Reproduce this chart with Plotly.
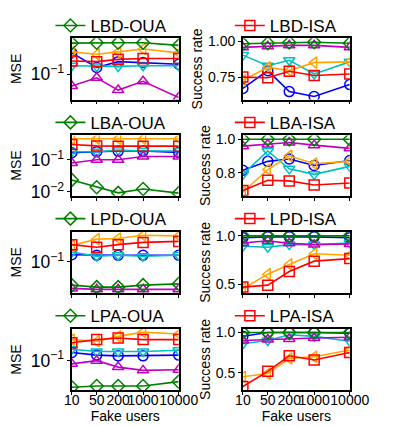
import plotly.graph_objects as go

# ---------------- data ----------------
fake_users = [10, 50, 200, 1000, 10000]
x_tick_labels = ["10", "50", "200", "1000", "10000"]

# Row 1 - MSE (LBD-OUA panel)
mse_lbd_green   = [0.514, 0.527, 0.527, 0.527, 0.457]
mse_lbd_orange  = [0.324, 0.286, 0.324, 0.378, 0.308]
mse_lbd_red     = [0.201, 0.194, 0.219, 0.230, 0.230]
mse_lbd_blue    = [0.308, 0.143, 0.194, 0.185, 0.169]
mse_lbd_cyan    = [0.156, 0.151, 0.151, 0.156, 0.156]
mse_lbd_magenta = [0.054, 0.083, 0.0434, 0.069, 0.0293]

# Row 1 - Success rate (LBD-ISA panel)
sr_lbd_green   = [0.982, 0.986, 0.991, 0.993, 0.986]
sr_lbd_magenta = [0.957, 0.964, 0.971, 0.971, 0.957]
sr_lbd_cyan    = [0.903, 0.829, 0.867, 0.772, 0.856]
sr_lbd_orange  = [0.728, 0.818, 0.795, 0.851, 0.856]
sr_lbd_red     = [0.750, 0.745, 0.791, 0.761, 0.772]
sr_lbd_blue    = [0.671, 0.795, 0.649, 0.615, 0.698]

# Row 2 - MSE (LBA-OUA panel)
mse_lba_orange  = [0.455, 0.455, 0.455, 0.455, 0.455]
mse_lba_red     = [0.299, 0.271, 0.266, 0.266, 0.266]
mse_lba_blue    = [0.166, 0.179, 0.187, 0.187, 0.170]
mse_lba_cyan    = [0.179, 0.179, 0.200, 0.187, 0.187]
mse_lba_magenta = [0.0794, 0.100, 0.100, 0.126, 0.126]
mse_lba_green   = [0.0236, 0.0139, 0.0093, 0.0123, 0.0091]

# Row 2 - Success rate (LBA-ISA panel)
sr_lba_green   = [1.0, 1.0, 1.0, 1.0, 1.0]
sr_lba_magenta = [0.959, 0.969, 0.981, 0.965, 0.946]
sr_lba_blue    = [0.815, 0.868, 0.882, 0.843, 0.873]
sr_lba_cyan    = [0.790, 0.930, 0.823, 0.790, 0.838]
sr_lba_orange  = [0.683, 0.819, 0.901, 0.854, 0.868]
sr_lba_red     = [0.693, 0.755, 0.751, 0.726, 0.738]

# Row 3 - MSE (LPD-OUA panel)
mse_lpd_orange  = [0.235, 0.330, 0.341, 0.404, 0.392]
mse_lpd_red     = [0.247, 0.215, 0.247, 0.278, 0.293]
mse_lpd_blue    = [0.145, 0.141, 0.141, 0.141, 0.141]
mse_lpd_cyan    = [0.167, 0.134, 0.141, 0.134, 0.141]
mse_lpd_green   = [0.0293, 0.0264, 0.0264, 0.0293, 0.0313]
mse_lpd_magenta = [0.0247, 0.0235, 0.0235, 0.0235, 0.0235]

# Row 3 - Success rate (LPD-ISA panel)
sr_lpd_green   = [1.0, 1.0, 1.0, 1.0, 1.0]
sr_lpd_blue    = [0.98, 0.99, 0.99, 0.99, 0.98]
sr_lpd_magenta = [0.926, 0.950, 0.923, 0.910, 0.916]
sr_lpd_cyan    = [0.893, 0.883, 0.910, 0.910, 0.926]
sr_lpd_orange  = [0.456, 0.606, 0.706, 0.816, 0.800]
sr_lpd_red     = [0.473, 0.493, 0.633, 0.740, 0.766]

# Row 4 - MSE (LPA-OUA panel)
mse_lpa_orange  = [0.303, 0.278, 0.359, 0.450, 0.406]
mse_lpa_red     = [0.256, 0.303, 0.331, 0.303, 0.303]
mse_lpa_cyan    = [0.182, 0.162, 0.162, 0.162, 0.173]
mse_lpa_blue    = [0.154, 0.134, 0.129, 0.129, 0.134]
mse_lpa_magenta = [0.0845, 0.100, 0.0713, 0.060, 0.062]
mse_lpa_green   = [0.0247, 0.0264, 0.0264, 0.0264, 0.0331]

# Row 4 - Success rate (LPA-ISA panel)
sr_lpa_green   = [1.0, 1.0, 1.0, 1.0, 1.0]
sr_lpa_blue    = [0.952, 1.0, 1.0, 1.0, 0.99]
sr_lpa_magenta = [0.900, 0.912, 0.920, 0.932, 0.940]
sr_lpa_cyan    = [0.860, 0.900, 0.972, 0.952, 0.891]
sr_lpa_red     = [0.327, 0.516, 0.709, 0.657, 0.750]
sr_lpa_orange  = [0.448, 0.488, 0.677, 0.697, 0.782]

left_titles = ["LBD-OUA", "LBA-OUA", "LPD-OUA", "LPA-OUA"]
right_titles = ["LBD-ISA", "LBA-ISA", "LPD-ISA", "LPA-ISA"]

# ---------------- styles ----------------
STYLE = {
    "blue": ("#0000FF", "circle-open"),
    "cyan": ("#00BFBF", "triangle-down-open"),
    "magenta": ("#BF00BF", "triangle-up-open"),
    "orange": ("#FFA500", "triangle-left-open"),
    "red": ("#FF0000", "square-open"),
    "green": ("#008000", "diamond-open"),
}
ORDER = ["blue", "cyan", "magenta", "orange", "red", "green"]

panels = [
    (0, 0, "green", dict(green=mse_lbd_green, orange=mse_lbd_orange, red=mse_lbd_red,
                         blue=mse_lbd_blue, cyan=mse_lbd_cyan, magenta=mse_lbd_magenta)),
    (0, 1, "red", dict(green=sr_lbd_green, orange=sr_lbd_orange, red=sr_lbd_red,
                       blue=sr_lbd_blue, cyan=sr_lbd_cyan, magenta=sr_lbd_magenta)),
    (1, 0, "green", dict(green=mse_lba_green, orange=mse_lba_orange, red=mse_lba_red,
                         blue=mse_lba_blue, cyan=mse_lba_cyan, magenta=mse_lba_magenta)),
    (1, 1, "red", dict(green=sr_lba_green, orange=sr_lba_orange, red=sr_lba_red,
                       blue=sr_lba_blue, cyan=sr_lba_cyan, magenta=sr_lba_magenta)),
    (2, 0, "green", dict(green=mse_lpd_green, orange=mse_lpd_orange, red=mse_lpd_red,
                         blue=mse_lpd_blue, cyan=mse_lpd_cyan, magenta=mse_lpd_magenta)),
    (2, 1, "red", dict(green=sr_lpd_green, orange=sr_lpd_orange, red=sr_lpd_red,
                       blue=sr_lpd_blue, cyan=sr_lpd_cyan, magenta=sr_lpd_magenta)),
    (3, 0, "green", dict(green=mse_lpa_green, orange=mse_lpa_orange, red=mse_lpa_red,
                         blue=mse_lpa_blue, cyan=mse_lpa_cyan, magenta=mse_lpa_magenta)),
    (3, 1, "red", dict(green=sr_lpa_green, orange=sr_lpa_orange, red=sr_lpa_red,
                       blue=sr_lpa_blue, cyan=sr_lpa_cyan, magenta=sr_lpa_magenta)),
]

W, H = 399, 426
col_px = [(60, 175), (244, 359)]
row_px = [(25, 88), (125, 187), (224, 287), (324, 387)]
legend_y_px = [12, 112, 211, 311]
legend_x_px = [37, 230]

left_ranges = [(-1.578, -0.178), (-2.121, -0.242), (-1.711, -0.311), (-1.673, -0.273)]
right_ranges = [(0.594, 1.02), (0.662, 1.023), (0.413, 1.043), (0.282, 1.045)]
right_ticks = [([0.75, 1.0], ["0.75", "1.00"]), ([0.8, 1.0], ["0.8", "1.0"]),
               ([0.5, 1.0], ["0.5", "1.0"]), ([0.5, 1.0], ["0.5", "1.0"])]

FONT = "Liberation Sans, Arial, sans-serif"
fig = go.Figure()
layout = dict(width=W, height=H, margin=dict(l=0, r=0, t=0, b=0),
              paper_bgcolor="white", plot_bgcolor="white",
              font=dict(family=FONT, color="black", size=14))

for i, (r, c, leg_key, data) in enumerate(panels):
    n = i + 1
    sfx = "" if n == 1 else str(n)
    leg_name = "legend" if n == 1 else f"legend{n}"
    title = left_titles[r] if c == 0 else right_titles[r]
    for key in ORDER:
        color, sym = STYLE[key]
        fig.add_trace(go.Scatter(
            x=fake_users, y=data[key], mode="lines+markers",
            name=title if key == leg_key else key,
            showlegend=(key == leg_key), legend=leg_name,
            xaxis="x" + sfx, yaxis="y" + sfx,
            line=dict(color=color, width=1.6),
            marker=dict(symbol=sym, size=10, color=color, line=dict(width=1.5, color=color)),
        ))
    x0, x1 = col_px[c]
    y0, y1 = row_px[r]
    xa = dict(domain=[x0 / W, x1 / W], type="log", range=[1, 4],
              tickvals=fake_users, ticktext=x_tick_labels, tickangle=0,
              showticklabels=(r == 3), showgrid=False, zeroline=False,
              showline=True, mirror=True, linecolor="black", linewidth=1.6,
              ticks="outside", ticklen=3, tickcolor="black", tickfont=dict(size=14),
              anchor="y" + sfx)
    if r == 3:
        xa["ticklabelstandoff"] = -7
        xa["title"] = dict(text="Fake users", font=dict(size=14), standoff=0)
    ya = dict(domain=[1 - y1 / H, 1 - y0 / H], showgrid=False, zeroline=False,
              showline=True, mirror=True, linecolor="black", linewidth=1.6,
              ticks="outside", ticklen=3, tickcolor="black", tickfont=dict(size=14),
              anchor="x" + sfx)
    if c == 0:
        ya.update(type="log", range=list(left_ranges[r]), dtick=1, exponentformat="power",
                  title=dict(text="MSE", font=dict(size=14), standoff=8))
    else:
        tv, tt = right_ticks[r]
        ya.update(range=list(right_ranges[r]), tickvals=tv, ticktext=tt,
                  title=dict(text="Success rate", font=dict(size=14), standoff=2))
    layout["xaxis" + sfx] = xa
    layout["yaxis" + sfx] = ya
    layout[leg_name] = dict(x=legend_x_px[c] / W, y=1 - legend_y_px[r] / H,
                            xanchor="left", yanchor="middle",
                            bgcolor="rgba(0,0,0,0)", font=dict(size=17, family=FONT),
                            itemwidth=30)

fig.update_layout(**layout)
fig.write_html("out.html")
